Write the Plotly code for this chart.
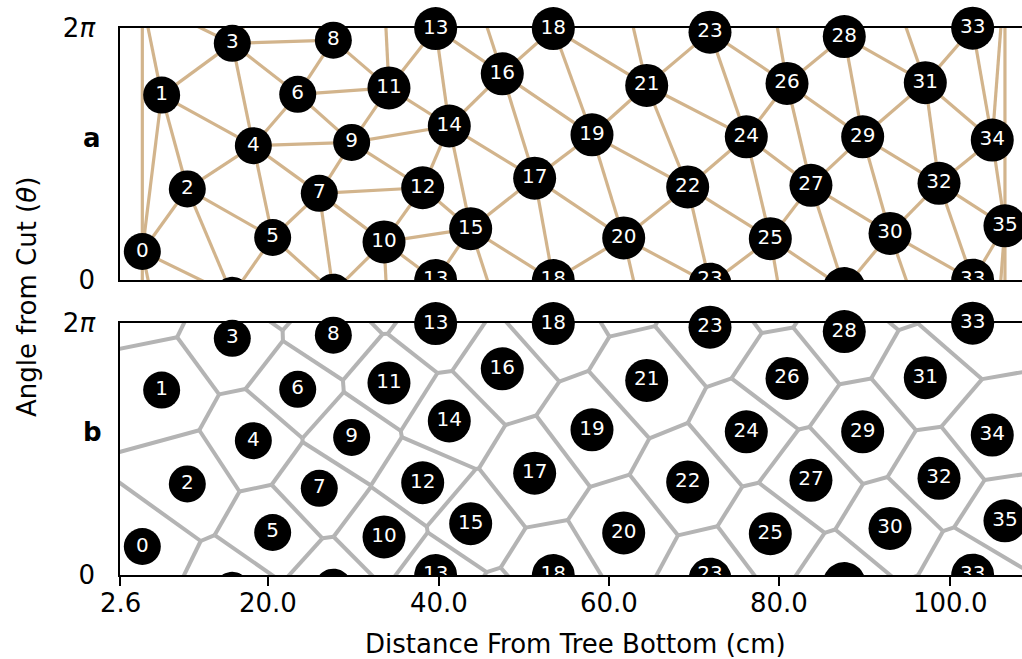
import numpy as np
import plotly.graph_objects as go

# ---------------- data ----------------
node_ids = list(range(36))
node_x = [5.22, 7.49, 10.50, 15.78, 18.25, 20.52, 23.46, 25.99, 27.64, 29.79,
          33.59, 34.17, 38.13, 39.65, 41.25, 43.76, 47.47, 51.27, 53.46, 58.00,
          61.72, 64.42, 69.23, 71.85, 76.11, 78.93, 80.89, 83.70, 87.61, 89.77,
          92.98, 97.12, 98.73, 102.68, 104.98, 106.47]
node_theta = [0.71, 4.61, 2.27, 5.90, 3.35, 1.06, 4.63, 2.16, 5.98, 3.43,
              0.95, 4.79, 2.30, 6.27, 3.84, 1.28, 5.14, 2.54, 6.27, 3.62,
              1.05, 4.85, 2.32, 6.18, 3.57, 1.03, 4.90, 2.36, 6.07, 3.57,
              1.16, 4.92, 2.41, 6.28, 3.49, 1.35]
circumference_cm = 29.6
x_tick_vals = [2.6, 20.0, 40.0, 60.0, 80.0, 100.0]
x_tick_text = ["2.6", "20.0", "40.0", "60.0", "80.0", "100.0"]
x_range = [2.6, 108.47]

TWO_PI = 2 * np.pi
scale = circumference_cm / TWO_PI

# layout geometry (pixels)
W, H = 1022, 659
ML, MR, MT, MB = 120, 0, 28, 84
PANEL_H = 252
plot_w = W - ML - MR
plot_h = H - MT - MB
kx = plot_w / (x_range[1] - x_range[0])   # px per cm
ky = PANEL_H / TWO_PI                      # px per radian

# ------------- periodic Delaunay / Voronoi (empty-circle test) -------------
xs = np.array(node_x)
ts = np.array(node_theta)
shifts = [-2, -1, 0, 1, 2]
U = np.concatenate([xs for _ in shifts])
V = np.concatenate([(ts + k * TWO_PI) * scale for k in shifts])
P = np.stack([U, V], axis=1)
N = len(P)

del_x, del_y, vor_x, vor_y = [], [], [], []
L = 400.0
for i in range(N):
    for j in range(i + 1, N):
        pi, pj = P[i], P[j]
        d = pj - pi
        dist = np.hypot(d[0], d[1])
        if dist > 70:
            continue
        m = (pi + pj) / 2
        n = np.array([-d[1], d[0]]) / dist
        mask = np.ones(N, bool)
        mask[i] = mask[j] = False
        Q = P[mask]
        a = 2 * ((m - Q) @ n)
        b = np.sum((m - pi) ** 2) - np.sum((m - Q) ** 2, axis=1)
        pos = a > 1e-9
        neg = a < -1e-9
        zer = ~(pos | neg)
        if np.any(b[zer] > 1e-9):
            continue
        lo = np.max(b[pos] / a[pos]) if pos.any() else -np.inf
        hi = np.min(b[neg] / a[neg]) if neg.any() else np.inf
        if not lo < hi - 1e-9:
            continue
        th = [pi[1] / scale, pj[1] / scale]
        if min(th) < TWO_PI + 0.5 and max(th) > -0.5:
            del_x += [pi[0], pj[0], None]
            del_y += [th[0], th[1], None]
        t0 = max(lo, -L)
        t1 = min(hi, L)
        q0 = m + t0 * n
        q1 = m + t1 * n
        tv = [q0[1] / scale, q1[1] / scale]
        uv = [q0[0], q1[0]]
        if min(tv) < TWO_PI + 0.1 and max(tv) > -0.1 and min(uv) < x_range[1] and max(uv) > x_range[0]:
            vor_x += [q0[0], q1[0], None]
            vor_y += [tv[0], tv[1], None]

labels = [str(k) for k in node_ids]
sizes = [37 if k < 10 else 43 for k in node_ids]

# periodic copies of the nodes (theta - 2pi and theta + 2pi): filled circles clipped to the panel
ang = np.linspace(0, TWO_PI, 49)
copy_px, copy_py = [], []
copy_tx, copy_ty, copy_tl = [], [], []
for k, (cx, ct, s, lab) in enumerate(zip(node_x, node_theta, sizes, labels)):
    for sh in (-TWO_PI, TWO_PI):
        cy = ct + sh
        r = s / 2.0
        copy_px += list(cx + r / kx * np.cos(ang)) + [None]
        copy_py += list(cy + r / ky * np.sin(ang)) + [None]
        if -0.12 < cy < 0:
            copy_tx.append(cx); copy_ty.append(0.0); copy_tl.append(lab)
        elif TWO_PI < cy < TWO_PI + 0.12:
            copy_tx.append(cx); copy_ty.append(TWO_PI); copy_tl.append(lab)

FONT = "DejaVu Sans"
fig = go.Figure()


def add_nodes(xa, ya):
    fig.add_trace(go.Scatter(x=copy_px, y=copy_py, mode="lines", fill="toself",
                             fillcolor="black", line=dict(width=0, color="black"),
                             hoverinfo="skip", xaxis=xa, yaxis=ya))
    fig.add_trace(go.Scatter(x=copy_tx, y=copy_ty, mode="text", text=copy_tl,
                             textfont=dict(family=FONT, size=20, color="white"),
                             textposition="middle center", cliponaxis=True,
                             hoverinfo="skip", xaxis=xa, yaxis=ya))
    fig.add_trace(go.Scatter(x=node_x, y=node_theta, mode="markers+text", text=labels,
                             marker=dict(color="black", size=sizes, opacity=1, line=dict(width=0)),
                             textfont=dict(family=FONT, size=20, color="white"),
                             textposition="middle center", cliponaxis=False,
                             hoverinfo="skip", xaxis=xa, yaxis=ya))


fig.add_trace(go.Scatter(x=del_x, y=del_y, mode="lines",
                         line=dict(color="#d2b48c", width=3.2), hoverinfo="skip",
                         xaxis="x", yaxis="y"))
add_nodes("x", "y")
fig.add_trace(go.Scatter(x=vor_x, y=vor_y, mode="lines",
                         line=dict(color="#b4b4b4", width=4), hoverinfo="skip",
                         xaxis="x2", yaxis="y2"))
add_nodes("x2", "y2")

common_x = dict(range=x_range, showline=True, mirror=True, linecolor="black", linewidth=1.5,
                showgrid=False, zeroline=False, layer="below traces")
common_y = dict(range=[0, TWO_PI], showline=True, mirror=False, linecolor="black", linewidth=1.5,
                showgrid=False, zeroline=False, layer="below traces",
                tickvals=[0, TWO_PI], ticktext=["0", "2<i>π</i>"], ticks="",
                ticklabelstandoff=18, tickfont=dict(family=FONT, size=26, color="black"))

top_lo = 1 - PANEL_H / plot_h
bot_hi = PANEL_H / plot_h


def px_x(p):
    return (p - ML) / plot_w


def px_y(p):
    return (H - MB - p) / plot_h


ann_font = dict(family=FONT, size=26, color="black")
annotations = [
    dict(text="<b>a</b>", x=px_x(92), y=px_y(138), xref="paper", yref="paper",
         xanchor="center", yanchor="middle", showarrow=False, font=ann_font),
    dict(text="<b>b</b>", x=px_x(92), y=px_y(432), xref="paper", yref="paper",
         xanchor="center", yanchor="middle", showarrow=False, font=ann_font),
    dict(text="Angle from Cut (<i>θ</i>)", x=px_x(27), y=px_y(297), xref="paper", yref="paper",
         xanchor="center", yanchor="middle", textangle=-90, showarrow=False, font=ann_font),
    dict(text="Distance From Tree Bottom (cm)", x=px_x(575), y=px_y(644), xref="paper",
         yref="paper", xanchor="center", yanchor="middle", showarrow=False, font=ann_font),
]
# x tick labels of the lower panel, placed on the x2 scale
for v, t in zip(x_tick_vals, x_tick_text):
    annotations.append(dict(text=t, x=v, y=px_y(603), xref="x2", yref="paper",
                            xanchor="center", yanchor="middle", showarrow=False, font=ann_font))

fig.update_layout(
    width=W, height=H,
    margin=dict(l=ML, r=MR, t=MT, b=MB),
    plot_bgcolor="white", paper_bgcolor="white", showlegend=False,
    font=dict(family=FONT, size=26, color="black"),
    xaxis=dict(domain=[0, 1], anchor="y", showticklabels=False, ticks="", **common_x),
    yaxis=dict(domain=[top_lo, 1], anchor="x", **common_y),
    xaxis2=dict(domain=[0, 1], anchor="y2", ticks="outside", ticklen=9, tickwidth=1.5,
                tickcolor="black", tickvals=x_tick_vals, showticklabels=False, **common_x),
    yaxis2=dict(domain=[0, bot_hi], anchor="x2", **common_y),
    annotations=annotations,
)

fig.write_html("out.html")
